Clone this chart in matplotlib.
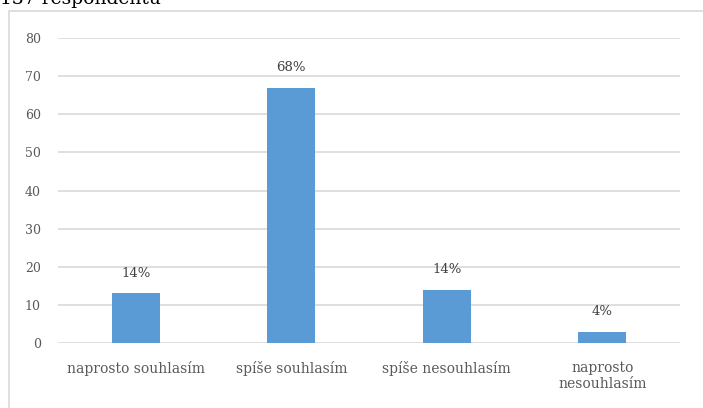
import matplotlib.pyplot as plt
from matplotlib.patches import Rectangle

categories = ["naprosto souhlasím", "spíše souhlasím", "spíše nesouhlasím", "naprosto\nnesouhlasím"]
values = [13, 67, 14, 3]
labels = ["14%", "68%", "14%", "4%"]
yticks = [0, 10, 20, 30, 40, 50, 60, 70, 80]

plt.rcParams['font.family'] = ['DejaVu Serif']

W, H = 703, 408
fig = plt.figure(figsize=(W/100, H/100), dpi=100)
ax = fig.add_axes([58/W, 1 - 343/H, (680-58)/W, (343-38)/H])

x = range(len(categories))
ax.bar(x, values, width=0.31, color="#5B9BD5", zorder=3)
for xi, v, lab in zip(x, values, labels):
    ax.text(xi, v + 5.3, lab, ha="center", va="center", fontsize=9.5, color="#404040")

ax.set_xlim(-0.5, len(categories) - 0.5)
ax.set_ylim(0, 80)
ax.set_yticks(yticks)
ax.set_xticks(list(x))
ax.set_xticklabels(categories, fontsize=10, color="#595959", linespacing=1.2)
ax.tick_params(axis="y", labelsize=9, labelcolor="#595959", length=0, pad=12.5)
ax.tick_params(axis="x", length=0, pad=13)
ax.grid(axis="y", color="#D9D9D9", linewidth=1.2, zorder=0)
for s in ax.spines.values():
    s.set_visible(False)

# chart border (bottom and right edges run off the picture)
fig.patches.append(Rectangle((8.5/W, -5/H), (W + 10)/W, (H - 10.5 + 5)/H, transform=fig.transFigure,
                             fill=False, edgecolor="#D9D9D9", linewidth=1.2))

fig.text(0, 1 - 4/H, "137 respondentů", fontsize=13.5, color="#000000", va="baseline", ha="left")

fig.savefig("out.png", dpi=100)
